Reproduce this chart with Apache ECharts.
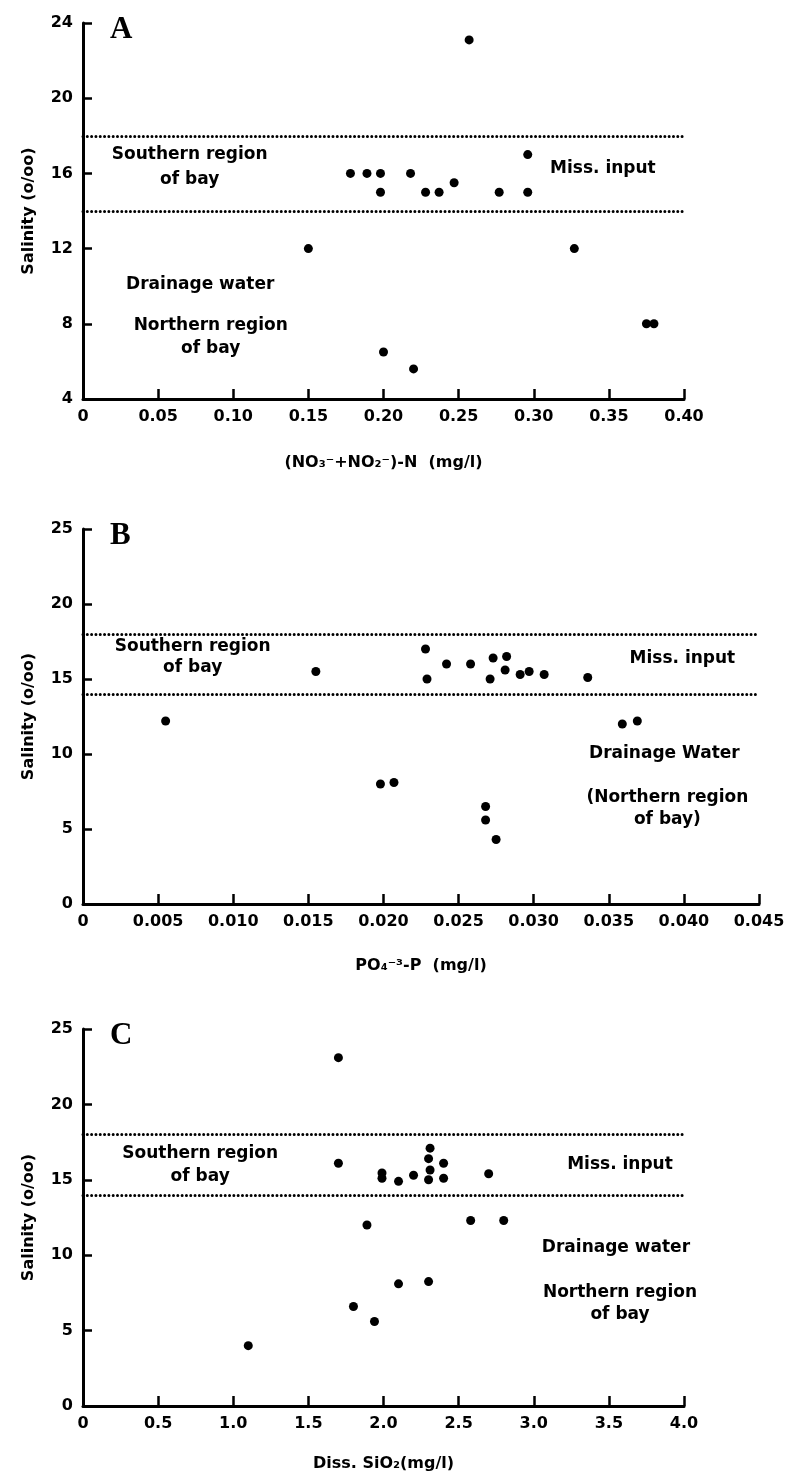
<!DOCTYPE html>
<html>
<head>
<meta charset="utf-8">
<script src="https://cdn.jsdelivr.net/npm/echarts@6/dist/echarts.min.js"></script>
<style>
  html, body { margin: 0; background: #fff; }
  #chart { width: 794px; height: 1482px; }
</style>
</head>
<body>
<div id="chart"></div>
<script>
// A: salinity vs (NO3+NO2)-N
const nitrogenN = [0.257, 0.178, 0.189, 0.198, 0.198, 0.218, 0.228, 0.237, 0.247, 0.277, 0.296, 0.296, 0.150, 0.327, 0.375, 0.380, 0.200, 0.220];
const salinityA = [23.1, 16.0, 16.0, 16.0, 15.0, 16.0, 15.0, 15.0, 15.5, 15.0, 17.0, 15.0, 12.0, 12.0, 8.0, 8.0, 6.5, 5.6];

// B: salinity vs PO4-P
const phosphateP = [0.0055, 0.0155, 0.0228, 0.0229, 0.0242, 0.0258, 0.0273, 0.0282, 0.0271, 0.0281, 0.0291, 0.0297, 0.0307, 0.0336, 0.0359, 0.0369, 0.0198, 0.0207, 0.0268, 0.0268, 0.0275];
const salinityB = [12.2, 15.5, 17.0, 15.0, 16.0, 16.0, 16.4, 16.5, 15.0, 15.6, 15.3, 15.5, 15.3, 15.1, 12.0, 12.2, 8.0, 8.1, 6.5, 5.6, 4.3];

// C: salinity vs dissolved SiO2
const silica = [1.70, 1.70, 1.99, 1.99, 2.10, 2.20, 2.31, 2.30, 2.31, 2.30, 2.40, 2.40, 2.70, 1.89, 2.58, 2.80, 2.10, 2.30, 1.80, 1.94, 1.10];
const salinityC = [23.1, 16.1, 15.45, 15.1, 14.9, 15.3, 17.1, 16.4, 15.65, 15.0, 16.1, 15.1, 15.4, 12.0, 12.3, 12.3, 8.1, 8.25, 6.6, 5.6, 4.0];

// southern region of bay salinity band
const regionBounds = [18, 14];

const ticksA = ["0", "0.05", "0.10", "0.15", "0.20", "0.25", "0.30", "0.35", "0.40"];
const ticksB = ["0", "0.005", "0.010", "0.015", "0.020", "0.025", "0.030", "0.035", "0.040", "0.045"];
const ticksC = ["0", "0.5", "1.0", "1.5", "2.0", "2.5", "3.0", "3.5", "4.0"];

const panelLetters = ["A", "B", "C"];
const xNames = ["(NO\u2083\u207B+NO\u2082\u207B)-N  (mg/l)", "PO\u2084\u207B\u00B3-P  (mg/l)", "Diss. SiO\u2082(mg/l)"];
const yName = "Salinity (o/oo)";

const FONT = "DejaVu Sans";
const ink = "#000";

const grids = [
  { left: 83, top: 23, width: 601, height: 376 },
  { left: 83, top: 529, width: 676, height: 375 },
  { left: 83, top: 1029, width: 601, height: 377 },
];

const xRanges = [
  { min: 0, max: 0.40, interval: 0.05, labels: ticksA, gap: 56 },
  { min: 0, max: 0.045, interval: 0.005, labels: ticksB, gap: 54 },
  { min: 0, max: 4.0, interval: 0.5, labels: ticksC, gap: 50 },
];
const yRanges = [
  { min: 4, max: 24, interval: 4 },
  { min: 0, max: 25, interval: 5 },
  { min: 0, max: 25, interval: 5 },
];

// text notes placed in data coords
const notes = [
  [
    { name: "Southern region\nof bay", coord: [0.071, 16.35], lh: 25 },
    { name: "Miss. input", coord: [0.346, 16.27] },
    { name: "Drainage water", coord: [0.078, 10.1] },
    { name: "Northern region\nof bay", coord: [0.085, 7.3], lh: 23 },
  ],
  [
    { name: "Southern region\nof bay", coord: [0.0073, 16.43], lh: 21 },
    { name: "Miss. input", coord: [0.0399, 16.33] },
    { name: "Drainage Water", coord: [0.0387, 10.0] },
    { name: "(Northern region\nof bay)", coord: [0.0389, 6.33], lh: 22 },
  ],
  [
    { name: "Southern region\nof bay", coord: [0.78, 16.0], lh: 23 },
    { name: "Miss. input", coord: [3.574, 15.98] },
    { name: "Drainage water", coord: [3.547, 10.48] },
    { name: "Northern region\nof bay", coord: [3.574, 6.76], lh: 22 },
  ],
];

const seriesPairs = [
  [nitrogenN, salinityA],
  [phosphateP, salinityB],
  [silica, salinityC],
];

const chart = echarts.init(document.getElementById("chart"), null, { renderer: "canvas" });

const option = {
  animation: false,
  backgroundColor: "#fff",
  textStyle: { fontFamily: FONT },
  title: panelLetters.map((t, i) => ({
    text: t,
    left: 105,
    top: grids[i].top - 14,
    textStyle: { fontFamily: "Liberation Serif", fontWeight: "bold", fontSize: 31, color: ink },
  })),
  grid: grids.map((g) => ({ ...g, containLabel: false, outerBoundsMode: "none" })),
  xAxis: xRanges.map((r, i) => ({
    type: "value",
    gridIndex: i,
    min: r.min,
    max: r.max,
    interval: r.interval,
    name: xNames[i],
    nameLocation: "middle",
    nameGap: r.gap,
    nameTextStyle: { fontFamily: FONT, fontWeight: "bold", fontSize: 16, color: ink },
    axisLine: { onZero: false, lineStyle: { color: ink, width: 3 } },
    axisTick: { inside: true, length: 10, lineStyle: { color: ink, width: 2.5 } },
    axisLabel: {
      margin: 10,
      fontFamily: FONT,
      fontWeight: "bold",
      fontSize: 16,
      color: ink,
      formatter: (v) => r.labels[Math.round((v - r.min) / r.interval)],
    },
    splitLine: { show: false },
  })),
  yAxis: yRanges.map((r, i) => ({
    type: "value",
    gridIndex: i,
    min: r.min,
    max: r.max,
    interval: r.interval,
    name: yName,
    nameLocation: "middle",
    nameRotate: 90,
    nameGap: 46,
    nameTextStyle: { fontFamily: FONT, fontWeight: "bold", fontSize: 16, color: ink },
    axisLine: { onZero: false, lineStyle: { color: ink, width: 3 } },
    axisTick: { inside: true, length: 9, lineStyle: { color: ink, width: 2.5 } },
    axisLabel: { margin: 10, fontFamily: FONT, fontWeight: "bold", fontSize: 16, color: ink },
    splitLine: { show: false },
  })),
  series: seriesPairs.map(([xs, ys], i) => ({
    type: "scatter",
    xAxisIndex: i,
    yAxisIndex: i,
    symbol: "circle",
    symbolSize: 9,
    itemStyle: { color: ink, opacity: 1 },
    data: xs.map((x, k) => [x, ys[k]]),
    markLine: {
      silent: true,
      symbol: ["none", "none"],
      label: { show: false },
      lineStyle: { color: ink, width: 3, type: [0.01, 4.3], cap: "round", opacity: 1 },
      data: regionBounds.map((v) => ({ yAxis: v })),
    },
    markPoint: {
      silent: true,
      symbol: "circle",
      symbolSize: 1,
      itemStyle: { color: "rgba(0,0,0,0)" },
      label: {
        show: true,
        position: "inside",
        formatter: "{b}",
        fontFamily: FONT,
        fontWeight: "bold",
        fontSize: 17,
        color: ink,
        align: "center",
        verticalAlign: "middle",
      },
      data: notes[i].map((n) => ({
        name: n.name,
        coord: n.coord,
        label: n.lh ? { lineHeight: n.lh } : undefined,
      })),
    },
  })),
};

chart.setOption(option);
</script>
</body>
</html>
